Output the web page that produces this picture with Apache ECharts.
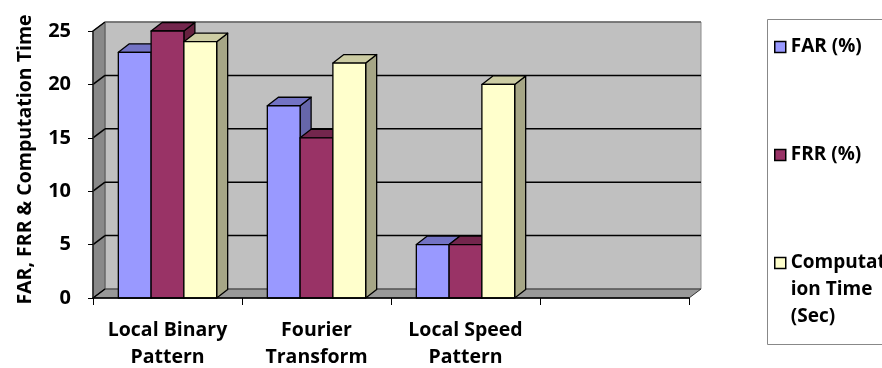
<!DOCTYPE html>
<html>
<head>
<meta charset="utf-8">
<script src="https://cdn.jsdelivr.net/npm/echarts@6/dist/echarts.min.js"></script>
<style>
  html, body { margin: 0; padding: 0; background: #fff; }
  #chart { width: 882px; height: 368px; }
</style>
</head>
<body>
<div id="chart"></div>
<script>
// Methods compared, and their results
const categories = ['Local Binary Pattern', 'Fourier Transform', 'Local Speed Pattern', ''];
const seriesNames = ['FAR (%)', 'FRR (%)', 'Computation Time (Sec)'];
const farValues = [23, 18, 5, null];
const frrValues = [25, 15, 5, null];
const timeValues = [24, 22, 20, null];
const yTicks = [0, 5, 10, 15, 20, 25];

// Face colours of each column: front, top, side
const palettes = [
  { front: '#9999FF', top: '#7373C4', side: '#6666AA' },
  { front: '#993366', top: '#73264D', side: '#66223F' },
  { front: '#FFFFCC', top: '#CCCCA3', side: '#A6A686' }
];

// Depth of the box and of each column (pixel offsets going back)
const WALL_DX = 12, WALL_DY = 9;
const BAR_DX = 11, BAR_DY = 8.5;
const BAR_RATIO = 0.22;
const FONT = '"Open Sans"';

const chart = echarts.init(document.getElementById('chart'), null, { renderer: 'canvas' });

// Back wall, side wall, floor and their grid lines
function renderWalls(params, api) {
  const cs = params.coordSys;
  const gx = cs.x, gy = cs.y, gw = cs.width, gh = cs.height;
  const bottom = gy + gh;
  const children = [
    { type: 'rect', shape: { x: gx + WALL_DX, y: gy - WALL_DY, width: gw, height: gh },
      style: { fill: '#C0C0C0', stroke: '#8C8C8C', lineWidth: 1 } },
    { type: 'polygon', shape: { points: [[gx, bottom], [gx, gy], [gx + WALL_DX, gy - WALL_DY], [gx + WALL_DX, bottom - WALL_DY]] },
      style: { fill: '#898989', stroke: '#555', lineWidth: 1 } },
    { type: 'polygon', shape: { points: [[gx, bottom], [gx + gw, bottom], [gx + gw + WALL_DX, bottom - WALL_DY], [gx + WALL_DX, bottom - WALL_DY]] },
      style: { fill: '#999999', stroke: '#333', lineWidth: 1 } }
  ];
  yTicks.forEach(function (v) {
    const y = api.coord([0, v])[1];
    children.push({ type: 'line', shape: { x1: gx, y1: y, x2: gx + WALL_DX, y2: y - WALL_DY },
      style: { stroke: '#000', lineWidth: 1.5 } });
    if (v > 0) {
      const inner = v < yTicks[yTicks.length - 1];
      children.push({ type: 'line', shape: { x1: gx + WALL_DX, y1: y - WALL_DY, x2: gx + WALL_DX + gw, y2: y - WALL_DY },
        style: { stroke: inner ? '#000' : '#666', lineWidth: 1.5 } });
    }
  });
  return { type: 'group', children: children };
}

// A shaded 3D column for one series
function columnRenderer(seriesIdx, pal) {
  return function (params, api) {
    const v = api.value(1);
    if (v == null || isNaN(v)) return;
    const cat = api.value(0);
    const base = api.coord([cat, 0]);
    const top = api.coord([cat, v]);
    const w = api.size([1, 0])[0] * BAR_RATIO;
    const x0 = base[0] + (seriesIdx - 1) * w - w / 2;
    const x1 = x0 + w;
    const y0 = base[1], y1 = top[1];
    const line = { stroke: '#000', lineWidth: 1.3, lineJoin: 'round' };
    return {
      type: 'group',
      children: [
        { type: 'polygon', shape: { points: [[x1, y0], [x1, y1], [x1 + BAR_DX, y1 - BAR_DY], [x1 + BAR_DX, y0 - BAR_DY]] },
          style: Object.assign({ fill: pal.side }, line) },
        { type: 'polygon', shape: { points: [[x0, y1], [x1, y1], [x1 + BAR_DX, y1 - BAR_DY], [x0 + BAR_DX, y1 - BAR_DY]] },
          style: Object.assign({ fill: pal.top }, line) },
        { type: 'rect', shape: { x: x0, y: y1, width: w, height: y0 - y1 },
          style: Object.assign({ fill: pal.front }, line) }
      ]
    };
  };
}

const valueSets = [farValues, frrValues, timeValues];
const columnSeries = valueSets.map(function (vals, i) {
  return {
    name: seriesNames[i],
    type: 'custom',
    z: 3,
    clip: false,
    renderItem: columnRenderer(i, palettes[i]),
    itemStyle: { color: palettes[i].front },
    encode: { x: 0, y: 1 },
    data: vals.map(function (v, j) { return [j, v]; })
  };
});

const legendText = { fontFamily: FONT, fontWeight: 'bold', fontSize: 19, color: '#000', lineHeight: 27 };

function legendFor(name, top, formatter) {
  const opt = {
    data: [name],
    orient: 'vertical',
    left: 774,
    top: top,
    padding: 0,
    icon: 'rect',
    itemWidth: 11,
    itemHeight: 11,
    itemGap: 0,
    selectedMode: false,
    itemStyle: { borderColor: '#000', borderWidth: 1.5 },
    textStyle: legendText
  };
  if (formatter) opt.formatter = formatter;
  return opt;
}

// The long name wraps in the narrow legend box; two blank lines in front
// keep its first line level with the swatch.
function wrapTimeName() { return '\n\nComputat\nion Time\n(Sec)'; }

chart.setOption({
  animation: false,
  backgroundColor: '#fff',
  textStyle: { fontFamily: FONT },
  grid: { left: 93, right: 193, top: 31, bottom: 70, containLabel: false, outerBoundsMode: 'none' },
  xAxis: {
    type: 'category',
    data: categories,
    axisLine: { show: true, lineStyle: { color: '#000', width: 1.5 } },
    axisTick: { show: true, interval: 0, length: 7, lineStyle: { color: '#000', width: 1 } },
    axisLabel: {
      interval: 0, margin: 19, color: '#000', fontFamily: FONT, fontWeight: 'bold', fontSize: 19.5, lineHeight: 27,
      formatter: function (s) { const k = s.lastIndexOf(' '); return k < 0 ? s : s.slice(0, k) + '\n' + s.slice(k + 1); }
    },
    splitLine: { show: false },
    z: 5
  },
  yAxis: {
    type: 'value',
    min: 0, max: 25, interval: 5,
    name: 'FAR, FRR & Computation Time',
    nameLocation: 'middle',
    nameRotate: 90,
    nameGap: 58,
    nameTextStyle: { fontFamily: FONT, fontWeight: 'bold', fontSize: 19.5, color: '#000', padding: [0, 0, 0, 10] },
    axisLine: { show: true, lineStyle: { color: '#222', width: 1.5 } },
    axisTick: { show: true, length: 5, lineStyle: { color: '#000', width: 1 } },
    axisLabel: { margin: 22, color: '#000', fontFamily: FONT, fontWeight: 'bold', fontSize: 20 },
    splitLine: { show: false },
    z: 5
  },
  legend: [
    legendFor(seriesNames[0], 33.5),
    legendFor(seriesNames[1], 141.5),
    legendFor(seriesNames[2], 195.5, wrapTimeName)
  ],
  graphic: [
    { type: 'rect', left: 767, top: 19, z: -1, silent: true,
      shape: { width: 200, height: 325 },
      style: { fill: '#fff', stroke: '#888', lineWidth: 1 } }
  ],
  series: [
    {
      name: 'walls',
      type: 'custom',
      z: 1,
      clip: false,
      silent: true,
      renderItem: renderWalls,
      encode: { x: 0, y: 1 },
      data: [[0, 0]]
    }
  ].concat(columnSeries)
});
</script>
</body>
</html>
